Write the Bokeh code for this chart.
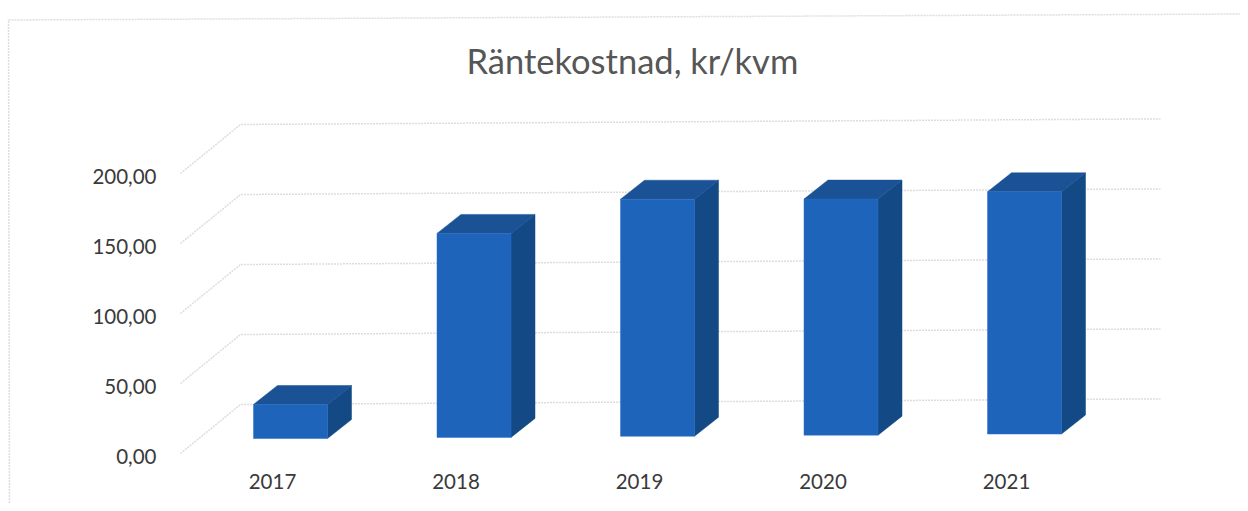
from bokeh.plotting import figure
from bokeh.models import Range1d, LinearAxis, FixedTicker
from bokeh.embed import file_html
from bokeh.resources import INLINE

title_text = "Räntekostnad, kr/kvm"
years = ["2017", "2018", "2019", "2020", "2021"]
costs = [24.3, 145.7, 169.3, 168.6, 173.0]
y_ticks = [0, 50, 100, 150, 200]
y_labels = ["0,00", "50,00", "100,00", "150,00", "200,00"]

PX_X = 183.5          # pixels per category
PX_Y = 1.4            # pixels per kr/kvm
TILT = 0.8            # scan rotation, value units per category
BAR_W = 74 / PX_X
BAR_DX = 24 / PX_X    # bar depth
BAR_DY = 19 / PX_Y
BAR_OFF = 18 / PX_X   # bar front plane behind the axis plane
BASE = 15 / PX_Y
FLOOR_X0, FLOOR_X1, WALL_X1 = -92 / PX_X, -32 / PX_X, 888 / PX_X
WALL_DY = 49 / PX_Y
LABEL_SHIFT = 1.8     # y tick labels sit slightly below their gridlines

FRAME_L, FRAME_R, FRAME_T, FRAME_B = 165, 1240, 85, 462
X0_REF, Y0_REF = 272, 453
y_start, y_end = (Y0_REF - FRAME_B) / PX_Y, (Y0_REF - FRAME_T) / PX_Y

p = figure(
    frame_width=FRAME_R - FRAME_L, frame_height=FRAME_B - FRAME_T,
    min_border_left=FRAME_L, min_border_right=0,
    min_border_top=FRAME_T, min_border_bottom=503 - FRAME_B,
    x_range=Range1d((FRAME_L - X0_REF) / PX_X, (FRAME_R - X0_REF) / PX_X),
    y_range=Range1d(y_start, y_end),
    x_axis_location=None, y_axis_location=None,
    output_backend="svg", toolbar_location=None,
    background_fill_color=None, border_fill_color=None,
)
p.extra_y_ranges = {"labels": Range1d(y_start + LABEL_SHIFT, y_end + LABEL_SHIFT)}
p.outline_line_color = None
p.grid.visible = False

p.title.text = title_text
p.title.text_font = "Lato"
p.title.text_font_size = "34.5px"
p.title.text_font_style = "normal"
p.title.text_color = "#565656"
p.title.align = "left"
p.title.offset = 301

# chart-area border of the scanned page, behind the transparent canvas
border_svg = (
    "<svg xmlns='http://www.w3.org/2000/svg' width='1240' height='503'>"
    "<path d='M9.5 503 L8.5 20 L1240 14' fill='none' stroke='%23dedede' "
    "stroke-width='1.5' stroke-dasharray='2 1'/></svg>"
)
p.styles = {"background-image": f'url("data:image/svg+xml,{border_svg}")',
            "background-repeat": "no-repeat"}

# gridlines: floor/side segment then back wall
xs_grid, ys_grid = [], []
for v in y_ticks:
    xs_grid.append([FLOOR_X0, FLOOR_X1, WALL_X1])
    ys_grid.append([v, v + WALL_DY, v + WALL_DY + TILT * (WALL_X1 - FLOOR_X1)])
p.multi_line(xs_grid, ys_grid, line_color="#e0dcdc", line_width=1.5, line_dash="2 1")

# bars
cx = [i + BAR_OFF for i in range(len(years))]
base = [BASE + TILT * i for i in range(len(years))]
tops = [b + c for b, c in zip(base, costs)]

top_xs, top_ys, side_xs, side_ys = [], [], [], []
for x, b, t in zip(cx, base, tops):
    l, r = x - BAR_W / 2, x + BAR_W / 2
    top_xs.append([l, r, r + BAR_DX, l + BAR_DX])
    top_ys.append([t, t, t + BAR_DY, t + BAR_DY])
    side_xs.append([r, r + BAR_DX, r + BAR_DX, r])
    side_ys.append([b, b + BAR_DY, t + BAR_DY, t])

p.patches(side_xs, side_ys, fill_color="#134a85", line_color="#134a85", line_width=0.5)
p.patches(top_xs, top_ys, fill_color="#1b5296", line_color="#1b5296", line_width=0.5)
p.vbar(x=cx, bottom=base, top=tops, width=BAR_W,
       fill_color="#1f64bb", line_color="#2a6fc8", line_width=0.5)

# axes
yax = LinearAxis(y_range_name="labels", ticker=FixedTicker(ticks=y_ticks),
                 major_label_overrides=dict(zip(y_ticks, y_labels)))
xax = LinearAxis(ticker=FixedTicker(ticks=list(range(len(years)))),
                 major_label_overrides=dict(enumerate(years)))
for ax in (yax, xax):
    ax.axis_line_color = None
    ax.major_tick_line_color = None
    ax.minor_tick_line_color = None
    ax.major_label_text_font = "Lato"
    ax.major_label_text_font_size = "20.5px"
    ax.major_label_text_color = "#3a3a3a"
yax.major_label_standoff = 3
xax.major_label_standoff = 5
p.add_layout(yax, "left")
p.add_layout(xax, "below")

open("out.html", "w").write(file_html(p, INLINE))
